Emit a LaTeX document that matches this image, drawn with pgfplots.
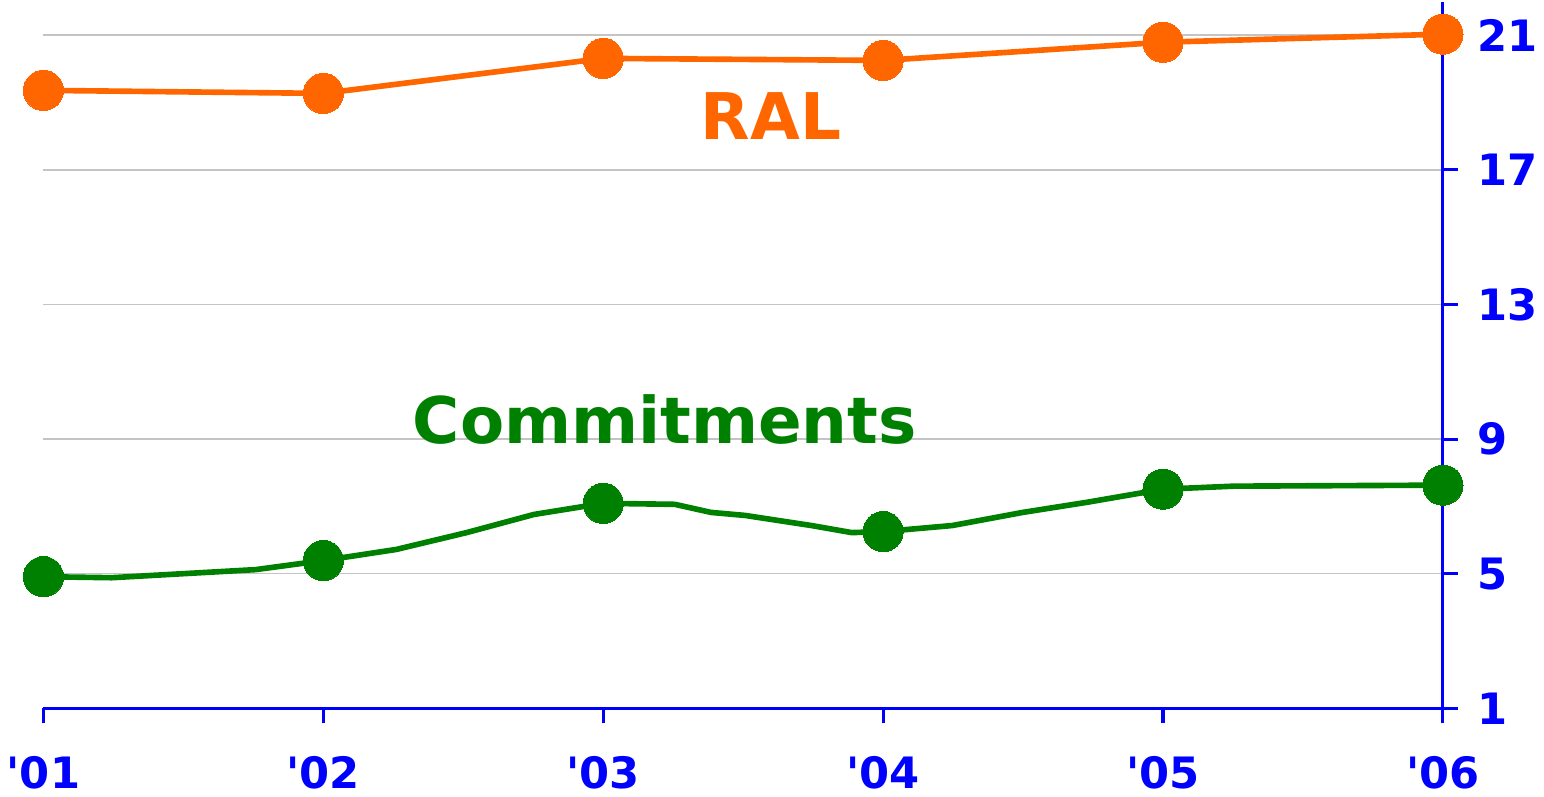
\documentclass[border=0pt]{standalone}
\usepackage{pgfplots}
\pgfplotsset{compat=1.18}
\usepackage{fontspec}
\setmainfont{DejaVu Sans}[Ligatures=TeXOff]
\definecolor{ralor}{HTML}{FF6600}
\definecolor{comgr}{HTML}{008000}
\definecolor{axblue}{HTML}{0000FF}
\definecolor{gridgray}{HTML}{C4C4C4}
\begin{document}
\begin{tikzpicture}
\begin{axis}[
  scale only axis,
  width=696pt, height=351.5pt,
  xmin=0, xmax=5, ymin=1, ymax=22,
  axis x line*=bottom, axis y line*=right,
  axis line style={axblue, line width=1.5pt, -},
  every outer x axis line/.append style={-},
  every outer y axis line/.append style={-},
  xtick={0,1,2,3,4,5},
  xticklabels={{'01},{'02},{'03},{'04},{'05},{'06}},
  ytick={1,5,9,13,17,21},
  tick align=outside,
  major tick length=7.5pt,
  tick style={axblue, line width=1.5pt},
  ymajorgrids,
  grid style={gridgray, line width=0.8pt},
  ticklabel style={font=\fontsize{21.5}{24}\selectfont\bfseries, text=axblue},
  /pgf/number format/assume math mode=true,
  xticklabel style={yshift=-13pt},
  yticklabel style={xshift=6pt},
  clip=false,
]
\addplot[ralor, line width=2.8pt, mark=*, mark size=10pt, mark options={fill=ralor, draw=ralor, line width=0pt}] coordinates {
 (0,19.36) (1,19.27) (2,20.31) (3,20.25) (4,20.79) (5,21.03)
};
\addplot[comgr, line width=2.8pt, no marks] coordinates {
 (0,4.91) (0.244,4.88) (0.758,5.12) (1,5.39) (1.261,5.72) (1.512,6.22)
 (1.753,6.76) (2,7.09) (2.256,7.06) (2.385,6.82) (2.507,6.73) (2.744,6.43)
 (2.888,6.22) (3,6.25) (3.247,6.43) (3.499,6.82) (3.728,7.12) (4,7.51)
 (4.253,7.60) (5,7.63)
};
\addplot[only marks, mark=*, mark size=10pt, mark options={fill=comgr, draw=comgr, line width=0pt}] coordinates {
 (0,4.91) (1,5.39) (2,7.09) (3,6.25) (4,7.51) (5,7.63)
};
\node[text=ralor, font=\fontsize{32}{36}\selectfont\bfseries] at (axis cs:2.60,18.61) {RAL};
\node[text=comgr, font=\fontsize{32}{36}\selectfont\bfseries] at (axis cs:2.22,9.57) {Commitments};
\end{axis}
\end{tikzpicture}
\end{document}
